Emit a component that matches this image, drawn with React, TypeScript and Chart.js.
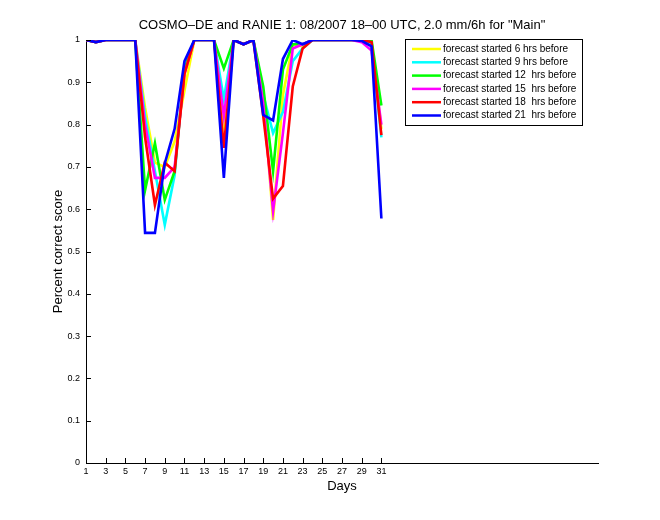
import React, { useEffect, useRef } from "react";
import { Chart, registerables } from "chart.js";

Chart.register(...registerables);

const days = [1, 2, 3, 4, 5, 6, 7, 8, 9, 10, 11, 12, 13, 14, 15, 16, 17, 18, 19, 20, 21, 22, 23, 24, 25, 26, 27, 28, 29, 30, 31];
const xTickDays = [1, 3, 5, 7, 9, 11, 13, 15, 17, 19, 21, 23, 25, 27, 29, 31];
const yTickValues = [0, 0.1, 0.2, 0.3, 0.4, 0.5, 0.6, 0.7, 0.8, 0.9, 1];

const titleText = "COSMO\u2013DE and RANIE 1: 08/2007 18\u201300 UTC, 2.0 mm/6h for \"Main\"";
const xTitle = "Days";
const yTitle = "Percent correct score";

const seriesLabels = [
  "forecast started 6 hrs before",
  "forecast started 9 hrs before",
  "forecast started 12  hrs before",
  "forecast started 15  hrs before",
  "forecast started 18  hrs before",
  "forecast started 21  hrs before",
];
const seriesColors = ["#ffff00", "#00ffff", "#00ff00", "#ff00ff", "#ff0000", "#0000ff"];

const fc6 = [1, 0.995, 1, 1, 1, 1, 0.84, 0.71, 0.7, 0.76, 0.88, 1, 1, 1, 0.8, 1, 0.99, 1, 0.87, 0.575, 0.87, 0.99, 0.985, 1, 1, 1, 1, 1, 1, 0.99, 0.79];
const fc9 = [1, 0.995, 1, 1, 1, 1, 0.82, 0.69, 0.563, 0.68, 0.94, 1, 1, 1, 0.86, 1, 0.99, 1, 0.87, 0.78, 0.83, 0.95, 0.98, 1, 1, 1, 1, 1, 1, 0.99, 0.77];
const fc12 = [1, 0.995, 1, 1, 1, 1, 0.645, 0.756, 0.622, 0.69, 0.93, 1, 1, 1, 0.933, 1, 0.99, 1, 0.89, 0.69, 0.93, 0.99, 0.99, 1, 1, 1, 1, 1, 1, 1, 0.845];
const fc15 = [1, 0.995, 1, 1, 1, 1, 0.8, 0.674, 0.674, 0.7, 0.92, 1, 1, 1, 0.82, 1, 0.99, 1, 0.85, 0.595, 0.78, 0.98, 0.99, 1, 1, 1, 1, 1, 0.995, 0.975, 0.8];
const fc18 = [1, 0.995, 1, 1, 1, 1, 0.77, 0.61, 0.71, 0.69, 0.92, 1, 1, 1, 0.745, 1, 0.99, 1, 0.82, 0.625, 0.655, 0.89, 0.98, 1, 1, 1, 1, 1, 1, 0.995, 0.775];
const fc21 = [1, 0.995, 1, 1, 1, 1, 0.544, 0.544, 0.708, 0.79, 0.95, 1, 1, 1, 0.674, 1, 0.99, 1, 0.823, 0.81, 0.955, 1, 0.99, 1, 1, 1, 1, 1, 0.998, 0.985, 0.578];

const seriesValues = [fc6, fc9, fc12, fc15, fc18, fc21];

const FONT = "'Liberation Sans', Arial, Helvetica, sans-serif";

const decorPlugin = {
  id: "matlabDecor",
  afterDraw(chart: any) {
    const ctx = chart.ctx as CanvasRenderingContext2D;
    const area = chart.chartArea;
    const xs = chart.scales.x;
    const ys = chart.scales.y;
    ctx.save();
    // inward tick marks
    ctx.strokeStyle = "#000";
    ctx.lineWidth = 1;
    ctx.beginPath();
    for (const d of xTickDays) {
      const px = Math.round(xs.getPixelForValue(d)) + 0.5;
      ctx.moveTo(px, area.bottom);
      ctx.lineTo(px, area.bottom - 5);
    }
    for (const v of yTickValues) {
      const py = Math.round(ys.getPixelForValue(v)) + 0.5;
      ctx.moveTo(area.left, py);
      ctx.lineTo(area.left + 5, py);
    }
    ctx.stroke();

    // title
    ctx.fillStyle = "#000";
    ctx.font = `13px ${FONT}`;
    ctx.textAlign = "center";
    ctx.textBaseline = "middle";
    ctx.fillText(titleText, (area.left + area.right) / 2, 25);
    // x title
    ctx.fillText(xTitle, (area.left + area.right) / 2, area.bottom + 23);
    // y title
    ctx.save();
    ctx.translate(area.left - 28, (area.top + area.bottom) / 2);
    ctx.rotate(-Math.PI / 2);
    ctx.fillText(yTitle, 0, 0);
    ctx.restore();

    // legend
    const x0 = area.right - 193;
    const y0 = area.top - 1;
    const bw = 177;
    const bh = 86;
    ctx.fillStyle = "#fff";
    ctx.fillRect(x0, y0, bw, bh);
    ctx.strokeStyle = "#000";
    ctx.lineWidth = 1;
    ctx.strokeRect(x0 + 0.5, y0 + 0.5, bw, bh);
    ctx.font = `10px ${FONT}`;
    ctx.textAlign = "left";
    ctx.textBaseline = "middle";
    chart.data.datasets.forEach((ds: any, i: number) => {
      const ry = y0 + 10 + i * 13.3;
      ctx.strokeStyle = ds.borderColor;
      ctx.lineWidth = 2.5;
      ctx.beginPath();
      ctx.moveTo(x0 + 7, ry);
      ctx.lineTo(x0 + 36, ry);
      ctx.stroke();
      ctx.fillStyle = "#000";
      ctx.fillText(ds.label, x0 + 38, ry);
    });
    ctx.restore();
  },
};

export default function App() {
  const canvasRef = useRef<HTMLCanvasElement | null>(null);

  useEffect(() => {
    document.body.style.margin = "0";
    const canvas = canvasRef.current;
    if (!canvas) return;
    const chart = new Chart(canvas, {
      type: "line",
      data: {
        datasets: seriesValues.map((vals, i) => ({
          label: seriesLabels[i],
          data: days.map((d, j) => ({ x: d, y: vals[j] })),
          borderColor: seriesColors[i],
          backgroundColor: seriesColors[i],
          borderWidth: 2.6,
          pointRadius: 0,
          tension: 0,
          fill: false,
          order: seriesValues.length - i,
        })),
      },
      options: {
        animation: false,
        responsive: false,
        devicePixelRatio: 1,
        layout: { padding: { top: 40, right: 62, left: 0, bottom: 0 } },
        plugins: {
          legend: { display: false },
          title: { display: false },
          tooltip: { enabled: false },
        },
        scales: {
          x: {
            type: "linear",
            min: 1,
            max: 53,
            grid: { display: false, drawTicks: false },
            border: { display: true, color: "#000", width: 1 },
            afterBuildTicks: (scale: any) => {
              scale.ticks = xTickDays.map((v) => ({ value: v }));
            },
            afterFit: (scale: any) => {
              scale.height = 57;
            },
            ticks: {
              autoSkip: false,
              maxRotation: 0,
              padding: 3,
              color: "#000",
              font: { family: FONT, size: 9 },
              callback: (v: any) => String(v),
            },
          },
          y: {
            type: "linear",
            min: 0,
            max: 1,
            grid: { display: false, drawTicks: false },
            border: { display: true, color: "#000", width: 1 },
            afterBuildTicks: (scale: any) => {
              scale.ticks = yTickValues.map((v) => ({ value: v }));
            },
            afterFit: (scale: any) => {
              scale.width = 86;
            },
            ticks: {
              autoSkip: false,
              padding: 6,
              color: "#000",
              font: { family: FONT, size: 9 },
              callback: (v: any) => String(Math.round(Number(v) * 10) / 10),
            },
          },
        },
      },
      plugins: [decorPlugin],
    });
    return () => chart.destroy();
  }, []);

  return (
    <canvas
      ref={canvasRef}
      width={660}
      height={520}
      style={{ display: "block", width: 660, height: 520 }}
    />
  );
}
